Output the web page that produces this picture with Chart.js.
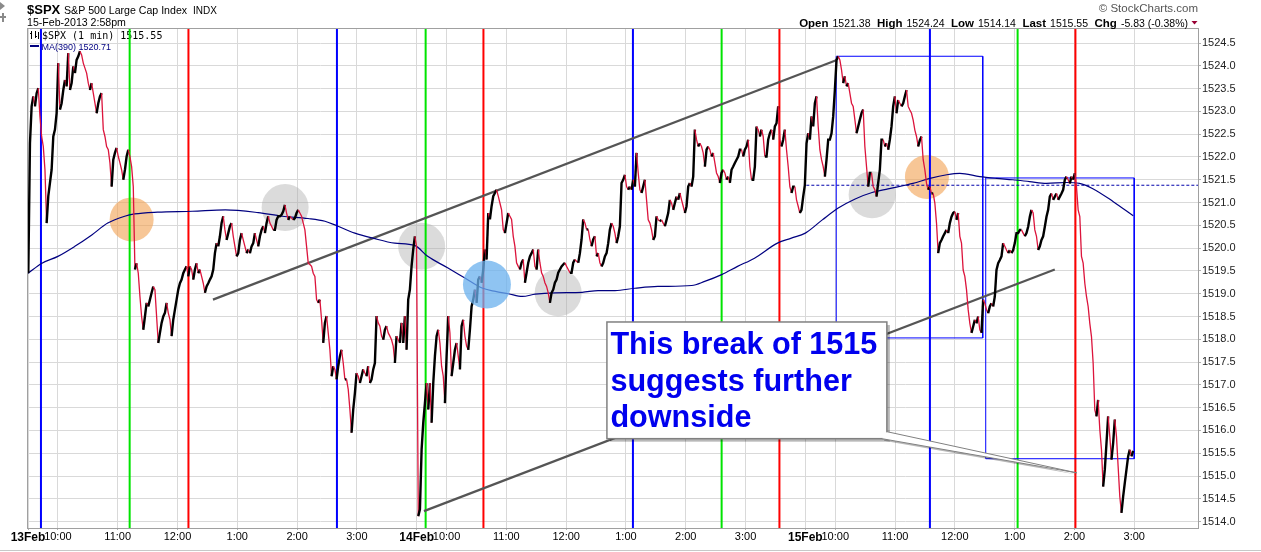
<!DOCTYPE html>
<html>
<head>
<meta charset="utf-8">
<title>$SPX 1 min</title>
<script src="https://cdn.jsdelivr.net/npm/chart.js@4.4.1/dist/chart.umd.min.js"></script>
<style>
  html, body { margin: 0; padding: 0; background: #fff; }
  #wrap { position: relative; width: 1261px; height: 552px; }
</style>
</head>
<body>
<div id="wrap"><canvas id="Chart" width="1261" height="552"></canvas></div>
<script>

// time axis = trading minutes since 13Feb 9:30 open, 390 minutes per session
const sessionLabels = ['13Feb', '14Feb', '15Feb'];
const hourLabels = ['10:00', '11:00', '12:00', '1:00', '2:00', '3:00'];
const priceTicks = [1514.0, 1514.5, 1515.0, 1515.5, 1516.0, 1516.5, 1517.0, 1517.5, 1518.0, 1518.5, 1519.0,
    1519.5, 1520.0, 1520.5, 1521.0, 1521.5, 1522.0, 1522.5, 1523.0, 1523.5, 1524.0, 1524.5];

// price, one reading every ~1.67 min
const readingStep = 1.672;
const firstReading = [0.3, 391.6, 781.2];

const feb13Px = [
    1519.45, 1522.30, 1523.11, 1523.33, 1523.11, 1523.40, 1523.51, 1522.89, 1522.45, 1522.23,
    1521.72, 1520.55, 1521.14, 1521.43, 1521.72, 1522.45, 1522.60, 1522.96, 1524.06, 1523.04,
    1523.18, 1523.47, 1523.69, 1523.55, 1524.28, 1523.47, 1523.62, 1523.99, 1523.84, 1524.13,
    1524.21, 1524.32, 1524.24, 1524.06, 1523.95, 1523.84, 1523.62, 1523.47, 1523.62, 1523.40,
    1523.18, 1522.96, 1523.18, 1523.33, 1523.40, 1522.60, 1522.45, 1522.23, 1522.16, 1521.87,
    1521.35, 1521.94, 1522.09, 1522.20, 1522.01, 1521.87, 1521.72, 1521.50, 1521.72, 1522.01,
    1522.16, 1522.01, 1521.79, 1521.35, 1519.53, 1519.67, 1519.45, 1518.94, 1518.50, 1518.21,
    1518.50, 1518.80, 1518.72, 1518.87, 1519.02, 1519.16, 1519.09, 1518.50, 1517.92, 1518.14,
    1518.36, 1518.50, 1518.58, 1518.80, 1518.58, 1518.43, 1518.07, 1518.43, 1518.65, 1518.87,
    1519.09, 1519.23, 1519.31, 1519.45, 1519.53, 1519.60, 1519.38, 1519.60, 1519.53, 1519.31,
    1519.53, 1519.67, 1519.45, 1519.53, 1519.38, 1519.23, 1519.02, 1519.16, 1519.23, 1519.31,
    1519.38, 1519.53, 1519.89, 1520.11, 1520.04, 1520.26, 1520.55, 1520.70, 1520.40, 1520.18,
    1520.33, 1520.48, 1520.55, 1520.26, 1520.04, 1519.82, 1519.89, 1520.18, 1520.33, 1520.18,
    1520.04, 1519.89, 1519.97, 1519.89, 1520.04, 1520.11, 1520.33, 1520.18, 1520.04, 1520.26,
    1520.40, 1520.48, 1520.33, 1520.55, 1520.70, 1520.55, 1520.48, 1520.40, 1520.40, 1520.62,
    1520.70, 1520.70, 1520.73, 1520.81, 1520.95, 1520.77, 1520.62, 1520.70, 1520.66, 1520.62,
    1520.66, 1520.77, 1520.84, 1520.77, 1520.70, 1520.55, 1520.40, 1520.04, 1519.67, 1519.64,
    1519.60, 1519.45, 1519.38, 1518.87, 1518.80, 1518.87, 1518.43, 1517.92, 1518.36, 1518.51,
    1518.14, 1517.77, 1517.19, 1517.41, 1517.34, 1517.12, 1517.41, 1517.63, 1517.77, 1517.48,
    1517.12, 1517.12, 1516.90, 1516.46, 1515.95, 1516.46, 1516.82, 1517.26, 1517.19, 1517.04,
    1517.19, 1517.34, 1517.26, 1517.19, 1517.41, 1517.04, 1517.12, 1517.34, 1517.48, 1518.51,
    1518.36, 1518.29, 1518.07, 1517.99, 1518.21, 1518.29, 1518.14, 1518.07, 1517.99, 1517.85,
    1517.48, 1518.07, 1517.99, 1517.92, 1518.36, 1517.92, 1518.51, 1517.77, 1518.87, 1519.09,
    1519.60, 1519.97, 1520.26, 1520.04
];

const feb14Px = [
    1514.12, 1514.27, 1515.58, 1516.17, 1516.60, 1517.04, 1516.46, 1517.04, 1516.17, 1517.04,
    1517.63, 1518.07, 1518.21, 1517.92, 1517.41, 1517.19, 1516.60, 1517.63, 1518.51, 1518.14,
    1517.19, 1517.48, 1517.77, 1517.92, 1517.63, 1517.34, 1518.29, 1518.43, 1518.07, 1517.85,
    1517.77, 1518.21, 1518.72, 1518.87, 1519.09, 1518.80, 1519.31, 1519.38, 1519.24, 1519.53,
    1519.97, 1519.75, 1520.77, 1520.63, 1520.92, 1521.14, 1521.21, 1521.28, 1521.14, 1520.99,
    1520.84, 1520.41, 1520.33, 1520.55, 1520.77, 1520.70, 1520.63, 1520.26, 1520.04, 1519.68,
    1519.60, 1519.53, 1519.68, 1519.75, 1519.24, 1519.46, 1519.68, 1519.82, 1519.89, 1519.97,
    1519.60, 1519.53, 1519.97, 1519.68, 1519.46, 1519.38, 1519.24, 1519.16, 1519.02, 1518.80,
    1519.02, 1519.09, 1519.24, 1519.31, 1519.46, 1519.53, 1519.60, 1519.64, 1519.68, 1519.60,
    1519.53, 1519.46, 1519.46, 1519.68, 1519.75, 1519.71, 1519.68, 1519.89, 1520.19, 1520.63,
    1520.55, 1520.41, 1520.41, 1520.19, 1520.04, 1520.19, 1520.26, 1519.82, 1519.89, 1519.68,
    1519.60, 1519.68, 1519.82, 1519.89, 1520.11, 1520.41, 1520.55, 1520.48, 1520.33, 1520.11,
    1520.26, 1520.48, 1521.43, 1521.50, 1521.61, 1521.35, 1521.28, 1521.35, 1521.28, 1521.50,
    1521.35, 1522.09, 1521.65, 1521.28, 1521.21, 1521.35, 1521.50, 1521.06, 1520.62, 1520.55,
    1520.40, 1520.18, 1520.26, 1520.70, 1520.62, 1520.59, 1520.62, 1520.55, 1520.48, 1520.62,
    1520.77, 1521.06, 1520.99, 1520.84, 1520.99, 1521.13, 1521.06, 1521.21, 1521.06, 1520.92,
    1520.77, 1520.92, 1521.35, 1521.43, 1521.35, 1521.57, 1522.60, 1522.38, 1522.23, 1522.30,
    1522.23, 1522.09, 1521.79, 1522.16, 1522.23, 1522.16, 1522.01, 1522.09, 1521.87, 1521.65,
    1521.57, 1521.43, 1521.65, 1521.72, 1521.65, 1521.50, 1521.57, 1521.43, 1521.72, 1521.79,
    1521.87, 1521.94, 1522.01, 1522.16, 1522.16, 1522.01, 1522.16, 1522.23, 1522.38, 1521.79,
    1521.50, 1521.50, 1521.79, 1522.67, 1522.60, 1522.45, 1522.60, 1522.45, 1522.01, 1522.01,
    1522.38, 1522.52, 1522.60, 1522.38, 1522.67, 1522.74, 1523.11, 1522.38, 1522.23, 1522.38,
    1522.60, 1522.16, 1521.79, 1521.35, 1521.21, 1521.35, 1521.35, 1521.06, 1520.92, 1520.77,
    1520.84, 1521.13, 1521.38
];

const feb15Px = [
    1522.30, 1522.52, 1522.38, 1522.89, 1522.67, 1523.18, 1523.33, 1522.67, 1522.16, 1521.94,
    1521.79, 1521.57, 1521.94, 1522.38, 1522.38, 1522.52, 1522.89, 1523.47, 1524.13, 1524.21,
    1524.13, 1523.91, 1523.62, 1523.77, 1523.55, 1523.62, 1523.40, 1523.18, 1523.11, 1522.82,
    1522.52, 1522.67, 1522.82, 1522.96, 1523.04, 1522.23, 1521.79, 1521.35, 1521.65, 1521.65,
    1521.35, 1521.28, 1521.13, 1521.43, 1521.72, 1522.38, 1522.38, 1522.23, 1522.30, 1522.16,
    1522.38, 1522.67, 1523.11, 1523.33, 1522.96, 1523.25, 1523.18, 1523.11, 1523.18, 1523.33,
    1523.47, 1523.11, 1523.03, 1522.96, 1522.81, 1522.59, 1522.45, 1522.23, 1522.37, 1522.45,
    1521.94, 1521.72, 1521.42, 1521.28, 1521.35, 1521.20, 1521.20, 1520.99, 1520.55, 1519.89,
    1520.11, 1520.18, 1520.26, 1520.33, 1520.40, 1520.33, 1520.55, 1520.69, 1520.77, 1520.80,
    1520.62, 1520.77, 1520.26, 1520.11, 1519.52, 1519.38, 1519.09, 1518.65, 1518.35, 1518.14,
    1518.28, 1518.43, 1518.35, 1518.50, 1518.21, 1518.14, 1518.87, 1518.79, 1518.65, 1518.57,
    1518.72, 1518.79, 1518.72, 1518.94, 1519.52, 1519.67, 1519.74, 1519.82, 1520.11, 1520.04,
    1519.96, 1519.89, 1519.96, 1519.89, 1519.96, 1520.11, 1520.33, 1520.33, 1520.40, 1520.40,
    1520.33, 1520.26, 1520.33, 1520.47, 1520.69, 1520.84, 1520.77, 1520.40, 1520.26, 1519.96,
    1520.04, 1520.18, 1520.26, 1520.47, 1520.69, 1520.84, 1521.13, 1521.20, 1521.06, 1521.13,
    1521.20, 1521.06, 1521.13, 1521.20, 1521.28, 1521.50, 1521.57, 1521.50, 1521.42, 1521.57,
    1521.50, 1521.64, 1521.35, 1520.84, 1520.69, 1519.82, 1519.67, 1519.23, 1518.94, 1518.72,
    1518.35, 1518.06, 1517.48, 1516.45, 1516.31, 1516.67, 1516.02, 1515.58, 1514.77, 1515.14,
    1515.72, 1516.31, 1515.87, 1515.36, 1515.72, 1516.24, 1515.87, 1515.21, 1514.55, 1514.19,
    1514.55, 1514.85, 1515.14, 1515.43, 1515.58, 1515.43, 1515.55
];

// MA(390) line
const maMinutes = [0, 14, 30, 47, 64, 80, 97, 107, 130, 165, 198, 231, 255, 281, 298, 310, 328, 346, 368, 388,
    401, 421, 438, 455, 469, 482, 496, 509, 529, 556, 572, 589, 609, 632, 666, 679, 696, 712, 729, 752,
    766, 780, 797, 813, 830, 847, 863, 880, 888, 905, 922, 935, 955, 972, 988, 1005, 1022, 1042, 1055, 1068,
    1089, 1109];
const maValues = [1519.45, 1519.67, 1519.82, 1520.04, 1520.29, 1520.55, 1520.70, 1520.75, 1520.79, 1520.81,
    1520.84, 1520.78, 1520.70, 1520.65, 1520.59, 1520.49, 1520.33, 1520.22, 1520.11, 1520.06,
    1519.82, 1519.57, 1519.35, 1519.13, 1519.05, 1519.00, 1518.94, 1518.99, 1519.02, 1519.03,
    1519.07, 1519.07, 1519.12, 1519.16, 1519.18, 1519.27, 1519.42, 1519.60, 1519.78, 1520.11,
    1520.22, 1520.33, 1520.62, 1520.88, 1521.08, 1521.22, 1521.30, 1521.38, 1521.42, 1521.53,
    1521.61, 1521.64, 1521.57, 1521.53, 1521.50, 1521.46, 1521.42, 1521.44, 1521.42, 1521.31,
    1521.02, 1520.71];

// hand-drawn markup on the chart
const blueLines = [13, 310, 607, 905];
const greenLines = [102, 399, 696, 993];
const redLines = [161, 457, 754, 1051];
const channelTop = [[185.6, 1518.87], [811.6, 1524.13]];
const channelBottom = [[397.3, 1514.23], [1030.3, 1519.53]];
const orangeSpots = [[104, 1520.63], [902, 1521.56]];
const graySpots = [[258, 1520.89], [395, 1520.04], [532, 1519.02], [847, 1521.17]];
const blueSpots = [[460.5, 1519.20]];
const boxA = [811, 958, 1518.03, 1524.21];
const boxB = [961, 1110, 1515.38, 1521.54];
const prevClose = 1521.38;
const noteLines = ['This break of 1515', 'suggests further', 'downside'];

const quoteLabels = ['Open', 'High', 'Low', 'Last', 'Chg'];
const quoteValues = ['1521.38', '1524.24', '1514.14', '1515.55', '-5.83 (-0.38%)'];

const yMin = 1513.86, yMax = 1524.83;
const FONT = '"Liberation Sans", Arial, sans-serif';

// build points
const pricePts = [];
[feb13Px, feb14Px, feb15Px].forEach((arr, d) => {
    arr.forEach((p, i) => pricePts.push({ x: firstReading[d] + i * readingStep, y: p }));
});
const maPts = maMinutes.map((m, i) => ({ x: m, y: maValues[i] }));

function verticals(list) {
    const pts = [];
    list.forEach(m => pts.push({ x: m, y: yMin }, { x: m, y: yMax }, { x: m, y: null }));
    return pts;
}
function rect(b) {
    return [{ x: b[0], y: b[2] }, { x: b[0], y: b[3] }, { x: b[1], y: b[3] }, { x: b[1], y: b[2] }, { x: b[0], y: b[2] }];
}
function pairs(list) {
    return list.map(p => ({ x: p[0], y: p[1] }));
}

const xTicks = [], xTickText = [];
sessionLabels.forEach((s, d) => {
    xTicks.push(d * 390); xTickText.push(s);
    hourLabels.forEach((h, k) => { xTicks.push(d * 390 + 30 + 60 * k); xTickText.push(h); });
});

const plain = { pointRadius: 0, fill: false, tension: 0 };

const decorations = {
    id: 'decorations',
    beforeDatasetsDraw(chart) {
        const ctx = chart.ctx;
        ctx.save();
        // series legend in the corner of the plot
        ctx.strokeStyle = '#000';
        ctx.lineWidth = 1;
        ctx.beginPath();
        ctx.moveTo(31.5, 31); ctx.lineTo(31.5, 39);
        ctx.moveTo(30, 33.5); ctx.lineTo(31.5, 33.5);
        ctx.moveTo(35.5, 31); ctx.lineTo(35.5, 38);
        ctx.moveTo(35.5, 36.5); ctx.lineTo(37, 36.5);
        ctx.moveTo(38.5, 32); ctx.lineTo(38.5, 39);
        ctx.stroke();
        ctx.fillStyle = '#000';
        ctx.font = '10px "DejaVu Sans Mono", monospace';
        ctx.fillText('$SPX (1 min) ' + quoteValues[3], 42, 38.5);
        ctx.fillStyle = '#000080';
        ctx.fillRect(30, 45, 9, 2);
        ctx.font = '9px ' + FONT;
        ctx.fillText('MA(390) ' + maValues[maValues.length - 1].toFixed(2), 41.5, 49.5);
        ctx.restore();
    },
    afterDraw(chart) {
        const { ctx, chartArea: a, scales: { x, y } } = chart;
        ctx.save();

        // plot frame
        ctx.strokeStyle = '#a0a0a0';
        ctx.lineWidth = 1;
        ctx.strokeRect(a.left - 0.5, a.top + 0.5, a.right - a.left + 1, a.bottom - a.top);
        ctx.fillStyle = '#c8c8c8';
        ctx.fillRect(0, 550, 1261, 1);

        // toolbar marks at the far left
        ctx.fillStyle = '#8a8a8a';
        ctx.beginPath(); ctx.moveTo(0, 2); ctx.lineTo(5, 6); ctx.lineTo(0, 10); ctx.closePath(); ctx.fill();
        ctx.fillRect(0, 16, 6, 2);
        ctx.fillRect(2, 13, 2, 9);

        // header
        ctx.fillStyle = '#000';
        ctx.textBaseline = 'alphabetic';
        ctx.textAlign = 'left';
        ctx.font = 'bold 13px ' + FONT;
        ctx.fillText('$SPX', 27, 14);
        ctx.font = '10.6px ' + FONT;
        ctx.fillText('S&P 500 Large Cap Index', 64, 13.5);
        ctx.font = '10px ' + FONT;
        ctx.fillText('INDX', 193, 13.5);
        ctx.font = '10.6px ' + FONT;
        ctx.fillText('15-Feb-2013 2:58pm', 27, 26);

        ctx.fillStyle = '#555';
        ctx.font = '11.5px ' + FONT;
        ctx.textAlign = 'right';
        ctx.fillText('\u00A9 StockCharts.com', 1198, 11.5);
        ctx.textAlign = 'left';

        const parts = [];
        quoteLabels.forEach((l, i) => {
            parts.push({ t: l, f: 'bold 11.5px ' + FONT, gap: 4 });
            parts.push({ t: quoteValues[i], f: '10.5px ' + FONT, gap: i < quoteLabels.length - 1 ? 6.5 : 0 });
        });
        let total = 0;
        parts.forEach(p => { ctx.font = p.f; p.w = ctx.measureText(p.t).width; total += p.w + p.gap; });
        let cx = 1188 - total;
        ctx.fillStyle = '#000';
        parts.forEach(p => { ctx.font = p.f; ctx.fillText(p.t, cx, 26.5); cx += p.w + p.gap; });
        ctx.fillStyle = '#990033';
        ctx.beginPath(); ctx.moveTo(1191.5, 21); ctx.lineTo(1197.5, 21); ctx.lineTo(1194.5, 24.5); ctx.closePath(); ctx.fill();

        // text note with pointer
        const L = x.getPixelForValue(580.9), R = x.getPixelForValue(861.8);
        const T = y.getPixelForValue(1518.38), B = y.getPixelForValue(1515.82);
        const tx = x.getPixelForValue(1052.4), ty = y.getPixelForValue(1515.07);
        ctx.fillStyle = 'rgba(0,0,0,0.28)';
        ctx.fillRect(L + 3, T + 3, R - L, B - T);
        ctx.beginPath(); ctx.moveTo(R - 3, B + 2); ctx.lineTo(tx + 1, ty + 2); ctx.lineTo(R + 2, B - 5); ctx.closePath(); ctx.fill();
        ctx.fillStyle = '#fff';
        ctx.fillRect(L, T, R - L, B - T);
        ctx.strokeStyle = '#808080';
        ctx.lineWidth = 1.5;
        ctx.strokeRect(L, T, R - L, B - T);
        ctx.beginPath(); ctx.moveTo(R - 5, B); ctx.lineTo(tx, ty); ctx.lineTo(R, B - 7); ctx.closePath();
        ctx.fill();
        ctx.lineWidth = 1;
        ctx.beginPath(); ctx.moveTo(R - 5, B); ctx.lineTo(tx, ty); ctx.lineTo(R, B - 7); ctx.stroke();

        ctx.fillStyle = '#0000ee';
        ctx.font = 'bold 30.6px ' + FONT;
        noteLines.forEach((s, i) => ctx.fillText(s, L + 3.5, T + 32 + i * 36.7));
        ctx.restore();
    }
};

const config = {
    type: 'line',
    data: {
        datasets: [
            { ...plain, label: 'orange', data: pairs(orangeSpots), showLine: false, pointRadius: 22,
                pointBackgroundColor: 'rgba(242,160,80,0.6)', pointBorderWidth: 0, order: 10 },
            { ...plain, label: 'gray', data: pairs(graySpots), showLine: false, pointRadius: 23.5,
                pointBackgroundColor: 'rgba(170,170,170,0.42)', pointBorderWidth: 0, order: 10 },
            { ...plain, label: 'blue lines', data: verticals(blueLines), borderColor: '#0000ff', borderWidth: 2, order: 8 },
            { ...plain, label: 'green lines', data: verticals(greenLines), borderColor: '#00e400', borderWidth: 2, order: 8 },
            { ...plain, label: 'red lines', data: verticals(redLines), borderColor: '#ff0000', borderWidth: 2, order: 8 },
            { ...plain, label: 'box A', data: rect(boxA), borderColor: '#0000ff', borderWidth: 1, order: 6 },
            { ...plain, label: 'box B', data: rect(boxB), borderColor: '#0000ff', borderWidth: 1, order: 6 },
            { ...plain, label: 'prev close', data: [{ x: 781, y: prevClose }, { x: 1174, y: prevClose }],
                borderColor: '#0000aa', borderWidth: 1, borderDash: [3, 2], order: 6 },
            { ...plain, label: 'channel top', data: pairs(channelTop), borderColor: '#555', borderWidth: 2.2, order: 5 },
            { ...plain, label: 'channel bottom', data: pairs(channelBottom), borderColor: '#555', borderWidth: 2.2, order: 5 },
            { ...plain, label: 'MA(390)', data: maPts, borderColor: '#000080', borderWidth: 1.2,
                cubicInterpolationMode: 'monotone', order: 4 },
            { ...plain, label: '$SPX', data: pricePts, borderColor: '#000', borderWidth: 2, order: 3,
                segment: {
                    borderColor: c => c.p1.parsed.y < c.p0.parsed.y ? '#dc143c' : '#000',
                    borderWidth: c => c.p1.parsed.y < c.p0.parsed.y ? 1.3 : 2.4
                } },
            { ...plain, label: 'blue spot', data: pairs(blueSpots), showLine: false, pointRadius: 24,
                pointBackgroundColor: 'rgba(105,176,237,0.75)', pointBorderWidth: 0, order: 1 }
        ]
    },
    options: {
        responsive: false,
        animation: false,
        events: [],
        layout: { padding: { left: 28, top: 28, right: 0, bottom: 0 } },
        plugins: { legend: { display: false }, tooltip: { enabled: false } },
        scales: {
            x: {
                type: 'linear',
                min: 0,
                max: 1174,
                afterBuildTicks: s => { s.ticks = xTicks.map(v => ({ value: v })); },
                afterFit: s => { s.height = 24; },
                ticks: {
                    autoSkip: false,
                    maxRotation: 0,
                    padding: 0,
                    color: '#000',
                    callback: (v, i) => xTickText[i],
                    font: c => xTickText[c.index] && xTickText[c.index].indexOf('Feb') > 0
                        ? { family: FONT, size: 12, weight: 'bold' }
                        : { family: FONT, size: 11 }
                },
                grid: { color: '#d9d9d9', tickLength: 2, tickColor: '#b0b0b0' },
                border: { color: '#a0a0a0' }
            },
            y: {
                position: 'right',
                min: yMin,
                max: yMax,
                afterBuildTicks: s => { s.ticks = priceTicks.map(v => ({ value: v })); },
                afterFit: s => { s.width = 63; },
                ticks: {
                    autoSkip: false,
                    padding: 1,
                    color: '#222',
                    font: { family: FONT, size: 11 },
                    callback: v => v.toFixed(1)
                },
                grid: { color: '#d9d9d9', tickLength: 3, tickColor: '#b0b0b0' },
                border: { color: '#a0a0a0' }
            }
        }
    },
    plugins: [decorations]
};

const ctx = document.getElementById('Chart').getContext('2d');
const myChart = new Chart(ctx, config);

</script>
</body>
</html>
